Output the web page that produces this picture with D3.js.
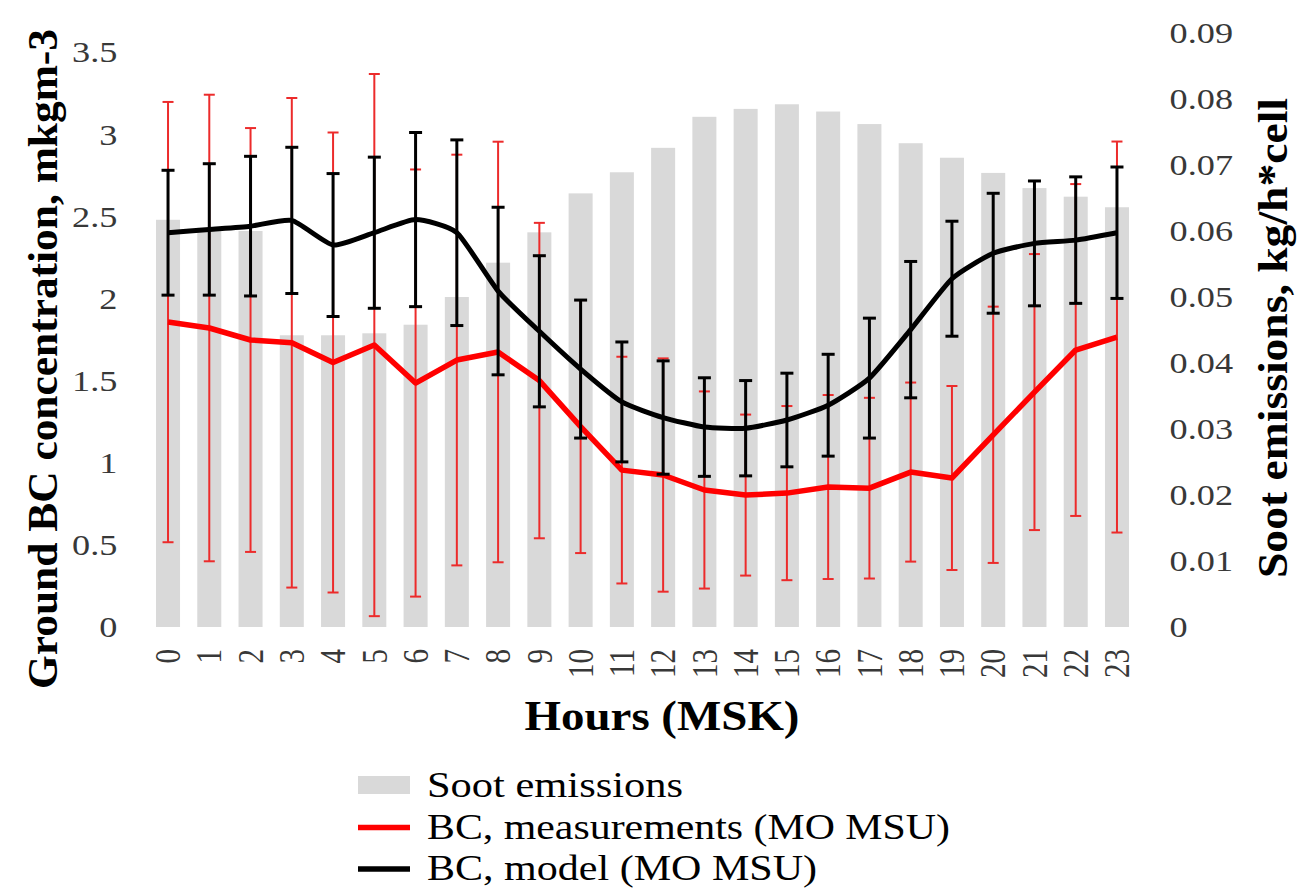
<!DOCTYPE html>
<html>
<head>
<meta charset="utf-8">
<script src="https://cdn.jsdelivr.net/npm/d3@7/dist/d3.min.js"></script>
<style>
  html, body { margin: 0; padding: 0; background: #ffffff; }
  svg { display: block; }
  text { font-family: "Liberation Serif", "Times New Roman", serif; }
</style>
</head>
<body>
<svg id="chart" width="1299" height="888"></svg>
<script>
// Diurnal cycle of black carbon at MO MSU and soot emissions, by hour (MSK)
const hours = [0,1,2,3,4,5,6,7,8,9,10,11,12,13,14,15,16,17,18,19,20,21,22,23];

// Soot emissions, kg/h*cell (right axis)
const sootEmissions = [0.0617,0.0605,0.0600,0.0442,0.0442,0.0445,0.0458,0.0500,0.0552,0.0598,0.0657,0.0689,
                       0.0726,0.0773,0.0785,0.0792,0.0781,0.0762,0.0733,0.0711,0.0688,0.0665,0.0652,0.0636];

// BC measurements: mean and standard deviation, mkgm-3 (left axis)
const measMean = [1.856,1.82,1.747,1.73,1.61,1.716,1.485,1.625,1.674,1.50,1.22,0.955,
                  0.925,0.834,0.803,0.815,0.852,0.845,0.943,0.907,1.17,1.43,1.686,1.765];
const measSd   = [1.34,1.42,1.29,1.49,1.40,1.65,1.30,1.25,1.28,0.96,0.77,0.69,
                  0.71,0.60,0.49,0.53,0.56,0.55,0.545,0.56,0.78,0.84,1.01,1.19];

// BC model: mean and standard deviation, mkgm-3 (left axis)
const modelMean = [2.40,2.42,2.44,2.475,2.325,2.40,2.48,2.40,2.045,1.80,1.57,1.37,
                   1.275,1.217,1.21,1.26,1.35,1.515,1.81,2.12,2.275,2.335,2.355,2.40];
const modelSd   = [0.38,0.40,0.425,0.445,0.435,0.46,0.53,0.565,0.51,0.46,0.42,0.365,
                   0.345,0.30,0.29,0.285,0.31,0.365,0.415,0.35,0.365,0.38,0.385,0.40];

const leftTicks  = [0,0.5,1,1.5,2,2.5,3,3.5];
const rightTicks = [0,0.01,0.02,0.03,0.04,0.05,0.06,0.07,0.08,0.09];

const legendItems = [
  {label: "Soot emissions", kind: "bar"},
  {label: "BC, measurements (MO MSU)", kind: "red"},
  {label: "BC, model (MO MSU)", kind: "black"}
];

const svg = d3.select("#chart");

const x = d3.scaleBand()
  .domain(hours)
  .range([147.4, 1137.6])
  .paddingInner(0.418)
  .paddingOuter(0.209);

const yLeft  = d3.scaleLinear().domain([0, 3.5]).range([627, 52]);
const yRight = d3.scaleLinear().domain([0, 0.09]).range([627, 33]);

const cx = h => x(h) + x.bandwidth() / 2;

const gray = "#d9d9d9";
const red = "#ff0000";
const redBar = "#ec2b2b";
const tickColor = "#383838";
const hstretch = 1.25;

// Bars: soot emissions
svg.append("g")
  .selectAll("rect")
  .data(hours)
  .join("rect")
  .attr("x", h => x(h))
  .attr("width", x.bandwidth())
  .attr("y", (h, i) => yRight(sootEmissions[i]))
  .attr("height", (h, i) => yRight(0) - yRight(sootEmissions[i]))
  .attr("fill", gray);

// Error bars helper
function errorBars(mean, sd, color, width, cap) {
  const g = svg.append("g").attr("stroke", color).attr("stroke-width", width).attr("fill", "none");
  hours.forEach((h, i) => {
    const top = yLeft(mean[i] + sd[i]);
    const bot = yLeft(mean[i] - sd[i]);
    const c = cx(h);
    g.append("line").attr("x1", c).attr("x2", c).attr("y1", top).attr("y2", bot);
    g.append("line").attr("x1", c - cap / 2).attr("x2", c + cap / 2).attr("y1", top).attr("y2", top);
    g.append("line").attr("x1", c - cap / 2).attr("x2", c + cap / 2).attr("y1", bot).attr("y2", bot);
  });
}

// Measurements: error bars and line
errorBars(measMean, measSd, redBar, 2, 11);
svg.append("path")
  .datum(hours)
  .attr("fill", "none")
  .attr("stroke", red)
  .attr("stroke-width", 5.5)
  .attr("stroke-linejoin", "round")
  .attr("d", d3.line().x(h => cx(h)).y((h, i) => yLeft(measMean[i])));

// Model: error bars and smoothed line
errorBars(modelMean, modelSd, "#000000", 3, 13);
svg.append("path")
  .datum(hours)
  .attr("fill", "none")
  .attr("stroke", "#000000")
  .attr("stroke-width", 5)
  .attr("stroke-linejoin", "round")
  .attr("d", d3.line().curve(d3.curveCardinal.tension(0.45)).x(h => cx(h)).y((h, i) => yLeft(modelMean[i])));

// Left axis
const leftAxis = svg.append("g")
  .attr("transform", `translate(${x.range()[0]},0)`)
  .call(d3.axisLeft(yLeft).tickValues(leftTicks).tickSize(0).tickFormat(d3.format("")));
leftAxis.select(".domain").remove();
leftAxis.selectAll("text")
  .attr("x", -24)
  .attr("dy", "0.34em")
  .attr("transform", `scale(${hstretch},1)`)
  .attr("fill", tickColor)
  .style("font-family", "'Liberation Serif', serif")
  .style("font-size", "29px");

// Right axis
const rightAxis = svg.append("g")
  .attr("transform", `translate(${x.range()[1]},0)`)
  .call(d3.axisRight(yRight).tickValues(rightTicks).tickSize(0).tickFormat(d3.format("")));
rightAxis.select(".domain").remove();
rightAxis.selectAll("text")
  .attr("x", 25.6)
  .attr("dy", "0.34em")
  .attr("transform", `scale(${hstretch},1)`)
  .attr("fill", tickColor)
  .style("font-family", "'Liberation Serif', serif")
  .style("font-size", "29px");

// Bottom axis: rotated hour labels
const bottomAxis = svg.append("g")
  .attr("transform", "translate(0,627)")
  .call(d3.axisBottom(x).tickSize(0));
bottomAxis.select(".domain").remove();
bottomAxis.selectAll("text")
  .attr("x", 0)
  .attr("y", 0)
  .attr("dy", "0.35em")
  .attr("text-anchor", "end")
  .attr("transform", "translate(0,22) rotate(-90) scale(1,1.2)")
  .attr("fill", tickColor)
  .style("font-family", "'Liberation Serif', serif")
  .style("font-size", "29px");

// Axis titles
svg.append("text")
  .attr("transform", "translate(57,359) rotate(-90)")
  .attr("text-anchor", "middle")
  .attr("textLength", 660)
  .attr("lengthAdjust", "spacingAndGlyphs")
  .style("font-size", "42px")
  .style("font-weight", "bold")
  .attr("fill", "#000")
  .text("Ground BC concentration, mkgm-3");

svg.append("text")
  .attr("transform", "translate(1287,338) rotate(-90)")
  .attr("text-anchor", "middle")
  .attr("textLength", 480)
  .attr("lengthAdjust", "spacingAndGlyphs")
  .style("font-size", "43px")
  .style("font-weight", "bold")
  .attr("fill", "#000")
  .text("Soot emissions, kg/h*cell");

svg.append("text")
  .attr("x", 662)
  .attr("y", 730)
  .attr("text-anchor", "middle")
  .attr("textLength", 275)
  .attr("lengthAdjust", "spacingAndGlyphs")
  .style("font-size", "42px")
  .style("font-weight", "bold")
  .attr("fill", "#000")
  .text("Hours (MSK)");

// Legend
const legendLengths = [256, 523, 390];
const legend = svg.append("g").attr("transform", "translate(358,0)");
legendItems.forEach((item, i) => {
  const base = 797 + i * 41.5;
  const mid = base - 12;
  if (item.kind === "bar") {
    legend.append("rect").attr("x", 0).attr("y", mid - 9).attr("width", 52).attr("height", 18).attr("fill", gray);
  } else {
    legend.append("line").attr("x1", 0).attr("x2", 52).attr("y1", mid + 1).attr("y2", mid + 1)
      .attr("stroke", item.kind === "red" ? red : "#000").attr("stroke-width", 5.5);
  }
  legend.append("text")
    .attr("x", 69)
    .attr("y", base)
    .attr("textLength", legendLengths[i])
    .attr("lengthAdjust", "spacingAndGlyphs")
    .style("font-size", "36px")
    .attr("fill", "#000")
    .text(item.label);
});
</script>
</body>
</html>
